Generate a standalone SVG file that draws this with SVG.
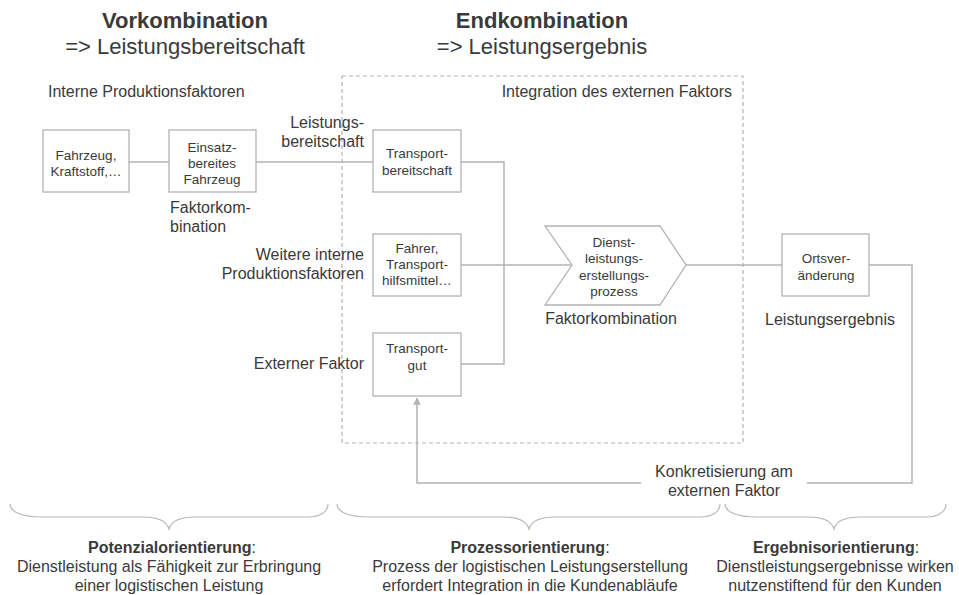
<svg xmlns="http://www.w3.org/2000/svg" width="959" height="595" viewBox="0 0 959 595">
  <style>
    text { font-family: "Liberation Sans", Arial, sans-serif; fill: #3a3a3a; }
    .title { font-size: 22px; text-anchor: middle; }
    .bold { font-weight: bold; }
    .lbl { font-size: 16px; }
    .mid { text-anchor: middle; }
    .end { text-anchor: end; }
    .box-t { font-size: 13.5px; text-anchor: middle; }
    .box { fill: #ffffff; stroke: #b3b3b3; stroke-width: 1.3; }
    .conn { fill: none; stroke: #b3b3b3; stroke-width: 1.5; }
    .brace { fill: none; stroke: #b8b8b8; stroke-width: 1.2; }
    .frame { fill: none; stroke: #b3b3b3; stroke-width: 1.2; stroke-dasharray: 4 3; }
  </style>
  <defs>
    <marker id="arrow" viewBox="0 0 10 10" refX="9" refY="5" markerWidth="5" markerHeight="6" orient="auto" markerUnits="strokeWidth">
      <path d="M0,0 L10,5 L0,10 Z" fill="#b3b3b3"/>
    </marker>
  </defs>

  <!-- headings -->
  <g id="heading-vor">
    <text class="title bold" x="185" y="28">Vorkombination</text>
    <text class="title" x="185" y="54">=&gt; Leistungsbereitschaft</text>
  </g>
  <g id="heading-end">
    <text class="title bold" x="542" y="28">Endkombination</text>
    <text class="title" x="542" y="54">=&gt; Leistungsergebnis</text>
  </g>

  <!-- integration frame -->
  <g id="integration">
    <rect class="frame" x="342" y="76" width="401" height="367"/>
    <text class="lbl end" x="732" y="97">Integration des externen Faktors</text>
  </g>

  <!-- side labels -->
  <g id="labels">
    <text class="lbl" x="48" y="97">Interne Produktionsfaktoren</text>
    <text class="lbl end" x="364" y="128">Leistungs-</text>
    <text class="lbl end" x="364" y="147">bereitschaft</text>
    <text class="lbl" x="170" y="213">Faktorkom-</text>
    <text class="lbl" x="170" y="232">bination</text>
    <text class="lbl end" x="364" y="260">Weitere interne</text>
    <text class="lbl end" x="364" y="279">Produktionsfaktoren</text>
    <text class="lbl end" x="364" y="369">Externer Faktor</text>
    <text class="lbl mid" x="611" y="324">Faktorkombination</text>
    <text class="lbl mid" x="830" y="325">Leistungsergebnis</text>
  </g>

  <!-- connectors -->
  <g id="connectors">
    <path class="conn" d="M129,162 H169"/>
    <path class="conn" d="M256,162 H373"/>
    <path class="conn" d="M461,162 H504 V364 H461"/>
    <path class="conn" d="M461,265 H572"/>
    <path class="conn" d="M686,265 H782"/>
    <path class="conn" d="M869,265 H912 V483 H807"/>
    <path class="conn" d="M641,483 H417 V398" marker-end="url(#arrow)"/>
  </g>

  <!-- nodes -->
  <g id="node-fahrzeug">
    <rect class="box" x="43" y="130" width="86" height="62"/>
    <text class="box-t" x="86" y="160">Fahrzeug,</text>
    <text class="box-t" x="86" y="176">Kraftstoff,…</text>
  </g>
  <g id="node-einsatz">
    <rect class="box" x="169" y="130" width="87" height="62"/>
    <text class="box-t" x="212" y="152">Einsatz-</text>
    <text class="box-t" x="212" y="168">bereites</text>
    <text class="box-t" x="212" y="184">Fahrzeug</text>
  </g>
  <g id="node-transportbereitschaft">
    <rect class="box" x="373" y="130" width="88" height="62"/>
    <text class="box-t" x="417" y="158">Transport-</text>
    <text class="box-t" x="417" y="175">bereitschaft</text>
  </g>
  <g id="node-fahrer">
    <rect class="box" x="373" y="234" width="88" height="62"/>
    <text class="box-t" x="417" y="253">Fahrer,</text>
    <text class="box-t" x="417" y="269">Transport-</text>
    <text class="box-t" x="417" y="285">hilfsmittel…</text>
  </g>
  <g id="node-transportgut">
    <rect class="box" x="373" y="333" width="88" height="63"/>
    <text class="box-t" x="417" y="353">Transport-</text>
    <text class="box-t" x="417" y="370">gut</text>
  </g>
  <g id="node-prozess">
    <polygon class="box" points="545,226 660,226 686,265 660,305 545,305 572,265"/>
    <text class="box-t" x="614" y="247">Dienst-</text>
    <text class="box-t" x="614" y="263">leistungs-</text>
    <text class="box-t" x="614" y="280">erstellungs-</text>
    <text class="box-t" x="614" y="296">prozess</text>
  </g>
  <g id="node-ortsveraenderung">
    <rect class="box" x="782" y="234" width="87" height="62"/>
    <text class="box-t" x="826" y="263">Ortsver-</text>
    <text class="box-t" x="826" y="280">änderung</text>
  </g>

  <g id="label-konkretisierung">
    <text class="lbl mid" x="724" y="477">Konkretisierung am</text>
    <text class="lbl mid" x="724" y="496">externen Faktor</text>
  </g>

  <!-- braces -->
  <g id="braces">
    <path class="brace" d="M10,504 C10,512 22,517 42,517 L143,517 C160,517 167,522 169,529 C171,522 178,517 195,517 L308,517 C320,517 328,512 328,504"/>
    <path class="brace" d="M337,504 C337,512 349,517 369,517 L503,517 C520,517 527,522 529,529 C531,522 538,517 555,517 L700,517 C712,517 720,512 720,504"/>
    <path class="brace" d="M725,504 C725,512 737,517 757,517 L808,517 C825,517 832,522 834,529 C836,522 843,517 860,517 L926,517 C938,517 946,512 946,504"/>
  </g>

  <!-- orientation captions -->
  <g id="caption-potenzial">
    <text class="lbl mid" x="172" y="553"><tspan class="bold">Potenzialorientierung</tspan>:</text>
    <text class="lbl mid" x="169" y="572">Dienstleistung als Fähigkeit zur Erbringung</text>
    <text class="lbl mid" x="169" y="591">einer logistischen Leistung</text>
  </g>
  <g id="caption-prozess">
    <text class="lbl mid" x="530" y="553"><tspan class="bold">Prozessorientierung</tspan>:</text>
    <text class="lbl mid" x="530" y="572">Prozess der logistischen Leistungserstellung</text>
    <text class="lbl mid" x="530" y="591">erfordert Integration in die Kundenabläufe</text>
  </g>
  <g id="caption-ergebnis">
    <text class="lbl mid" x="836" y="553"><tspan class="bold">Ergebnisorientierung</tspan>:</text>
    <text class="lbl mid" x="835" y="572">Dienstleistungsergebnisse wirken</text>
    <text class="lbl mid" x="835" y="591">nutzenstiftend für den Kunden</text>
  </g>
</svg>
